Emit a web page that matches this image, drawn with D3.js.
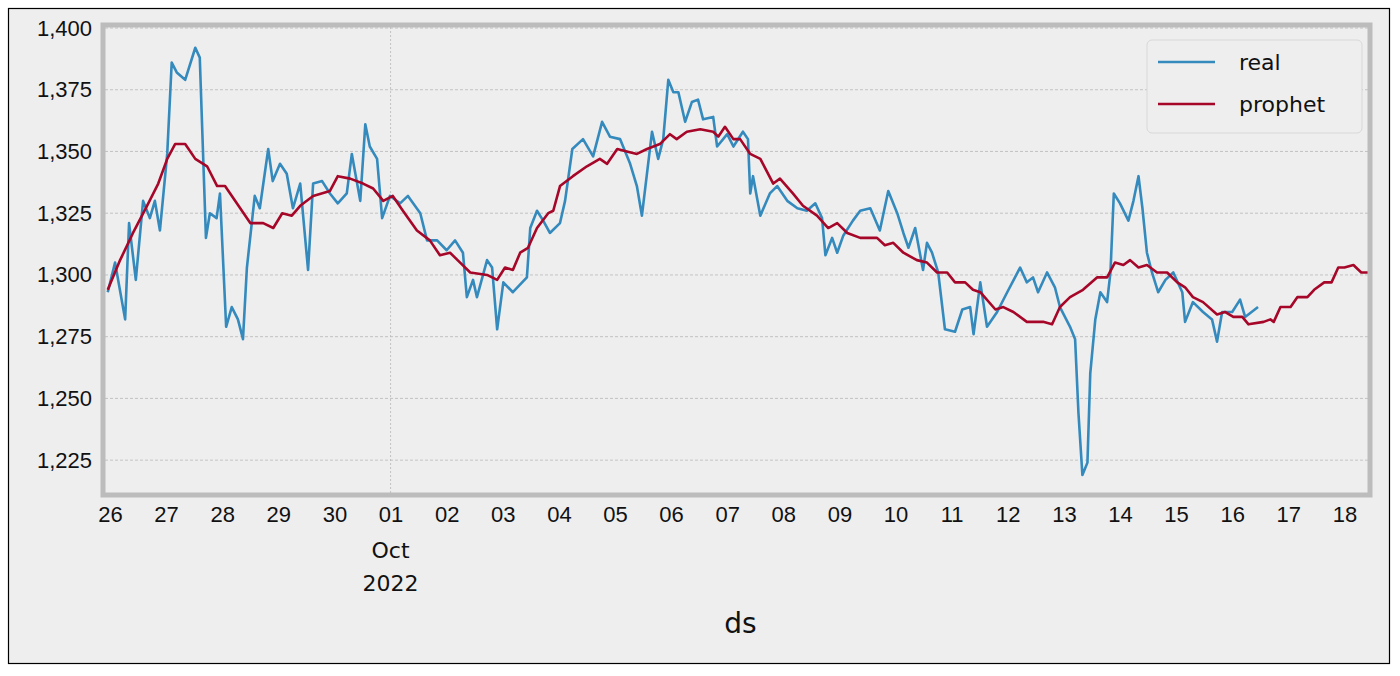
<!DOCTYPE html>
<html>
<head>
<meta charset="utf-8">
<script src="https://cdn.jsdelivr.net/npm/d3@7"></script>
<style>
  body { margin: 0; background: #fff; }
  svg { font-family: "DejaVu Sans", sans-serif; }
</style>
</head>
<body>
<div id="container"></div>
<script>
/* global d3 */
const width = 1400;
const height = 676;

// days after 26 Sep 2022 00:00
const realDays = [-0.04,0.09,0.27,0.34,0.46,0.59,0.71,0.8,0.89,1.02,1.1,1.19,1.34,1.52,1.6,1.71,1.78,1.9,1.96,2.07,2.17,2.28,2.37,2.44,2.58,2.67,2.82,2.9,3.03,3.15,3.26,3.39,3.53,3.62,3.78,3.92,4.06,4.22,4.31,4.46,4.55,4.63,4.76,4.85,4.99,5.17,5.31,5.53,5.65,5.83,6.0,6.15,6.29,6.36,6.47,6.54,6.72,6.81,6.9,7.01,7.18,7.43,7.49,7.61,7.72,7.84,8.02,8.11,8.24,8.43,8.61,8.77,8.91,9.09,9.27,9.39,9.48,9.66,9.77,9.86,9.95,10.04,10.13,10.25,10.37,10.48,10.57,10.75,10.82,11.0,11.11,11.28,11.37,11.41,11.46,11.59,11.76,11.89,12.07,12.25,12.42,12.57,12.69,12.75,12.87,12.96,13.07,13.24,13.37,13.55,13.72,13.87,14.03,14.14,14.23,14.35,14.49,14.56,14.65,14.76,14.88,15.06,15.19,15.33,15.39,15.51,15.63,15.81,15.99,16.22,16.34,16.45,16.54,16.7,16.84,16.93,17.11,17.2,17.26,17.33,17.42,17.47,17.56,17.65,17.77,17.83,17.89,18.0,18.15,18.24,18.33,18.4,18.48,18.57,18.68,18.81,18.95,19.11,19.16,19.3,19.48,19.64,19.73,19.82,20.0,20.14,20.23,20.46];
const realValues = [1293,1305,1282,1321,1298,1330,1323,1330,1318,1349,1386,1382,1379,1392,1388,1315,1325,1323,1333,1279,1287,1282,1274,1303,1332,1327,1351,1338,1345,1341,1327,1337,1302,1337,1338,1333,1329,1333,1349,1330,1361,1352,1347,1323,1332,1329,1332,1325,1314,1314,1310,1314,1309,1291,1298,1291,1306,1303,1278,1297,1293,1299,1319,1326,1322,1317,1321,1330,1351,1355,1348,1362,1356,1355,1345,1336,1324,1358,1347,1355,1379,1374,1374,1362,1370,1371,1363,1364,1352,1357,1352,1358,1355,1333,1340,1324,1333,1336,1330,1327,1326,1329,1323,1308,1315,1309,1316,1322,1326,1327,1318,1334,1325,1317,1311,1319,1302,1313,1309,1301,1278,1277,1286,1287,1276,1297,1279,1285,1293,1303,1297,1299,1293,1301,1295,1287,1279,1274,1244,1219,1224,1260,1282,1293,1289,1301,1333,1329,1322,1330,1340,1327,1309,1301,1293,1298,1301,1293,1281,1289,1285,1282,1273,1285,1285,1290,1283,1287];

const prophetDays = [-0.04,0.18,0.41,0.66,0.86,1.02,1.16,1.34,1.52,1.73,1.91,2.05,2.26,2.5,2.73,2.91,3.07,3.24,3.39,3.62,3.92,4.06,4.28,4.51,4.69,4.87,5.04,5.22,5.47,5.7,5.88,6.06,6.24,6.42,6.72,6.9,7.04,7.18,7.31,7.45,7.61,7.81,7.9,8.02,8.25,8.5,8.73,8.86,9.04,9.21,9.39,9.57,9.8,9.98,10.1,10.28,10.52,10.75,10.84,10.96,11.11,11.23,11.41,11.59,11.82,11.94,12.17,12.35,12.6,12.8,12.96,13.14,13.37,13.67,13.81,13.96,14.14,14.38,14.56,14.74,14.92,15.06,15.24,15.38,15.51,15.78,15.92,16.1,16.34,16.63,16.79,16.93,17.11,17.34,17.59,17.77,17.91,18.06,18.18,18.33,18.48,18.66,18.84,19.02,19.16,19.3,19.48,19.73,19.87,20.02,20.18,20.29,20.56,20.68,20.74,20.86,21.04,21.16,21.34,21.46,21.64,21.77,21.89,22.0,22.16,22.3,22.5];
const prophetValues = [1294,1306,1317,1328,1337,1347,1353,1353,1347,1344,1336,1336,1329,1321,1321,1319,1325,1324,1328,1332,1334,1340,1339,1337,1335,1330,1332,1326,1318,1314,1308,1309,1305,1301,1300,1298,1303,1302,1309,1311,1319,1325,1326,1336,1340,1344,1347,1345,1351,1350,1349,1351,1353,1357,1355,1358,1359,1358,1356,1360,1355,1355,1349,1347,1337,1339,1333,1328,1324,1319,1321,1317,1315,1315,1312,1313,1309,1306,1305,1301,1301,1297,1297,1294,1293,1286,1287,1285,1281,1281,1280,1287,1291,1294,1299,1299,1305,1304,1306,1303,1304,1301,1301,1297,1295,1291,1289,1284,1285,1283,1283,1280,1281,1282,1281,1287,1287,1291,1291,1294,1297,1297,1303,1303,1304,1301,1301];

const yTicks = [1225, 1250, 1275, 1300, 1325, 1350, 1375, 1400];
const seriesNames = ["real", "prophet"];
const colors = ["#348ABD", "#A60628"];

const t0 = new Date(2022, 8, 26);
const toDate = (d) => new Date(t0.getTime() + d * 86400000);

const plot = { left: 105, right: 1368, top: 27, bottom: 493 };

const svg = d3.select("#container").append("svg")
  .attr("width", width).attr("height", height);

// figure background and outer frame
svg.append("rect").attr("x", 8.5).attr("y", 8.5).attr("width", 1381).attr("height", 655)
  .attr("fill", "#eeeeee").attr("stroke", "#000").attr("stroke-width", 1.2);
svg.append("rect").attr("x", plot.left).attr("y", plot.top)
  .attr("width", plot.right - plot.left).attr("height", plot.bottom - plot.top)
  .attr("fill", "#eeeeee");

const x = d3.scaleTime([toDate(-0.089), toDate(22.42)], [plot.left, plot.right]);
const y = d3.scaleLinear([1211.7, 1400.4], [plot.bottom, plot.top]);

// gridlines
svg.append("g").selectAll("line").data(yTicks).join("line")
  .attr("x1", plot.left).attr("x2", plot.right)
  .attr("y1", (d) => y(d)).attr("y2", (d) => y(d))
  .attr("stroke", "#b8b8b8").attr("stroke-width", 0.8).attr("stroke-dasharray", "3,2");
svg.append("line")
  .attr("x1", x(toDate(5))).attr("x2", x(toDate(5)))
  .attr("y1", plot.top).attr("y2", plot.bottom)
  .attr("stroke", "#b8b8b8").attr("stroke-width", 0.8).attr("stroke-dasharray", "2,2");

// axes
const dayTicks = d3.range(0, 23).map(toDate);
const xAx = svg.append("g")
  .attr("transform", `translate(0,${plot.bottom + 4})`)
  .call(d3.axisBottom(x).tickValues(dayTicks).tickFormat(d3.timeFormat("%d")).tickSize(0).tickPadding(9));
xAx.select(".domain").remove();
xAx.selectAll("text").attr("font-size", 22).attr("fill", "#111");

const yAx = svg.append("g")
  .attr("transform", `translate(${plot.left - 4},0)`)
  .call(d3.axisLeft(y).tickValues(yTicks).tickSize(0).tickPadding(9));
yAx.select(".domain").remove();
yAx.selectAll("text").attr("font-size", 22).attr("fill", "#111");

const oct = x(toDate(5));
svg.append("text").attr("x", oct).attr("y", 558).attr("text-anchor", "middle")
  .attr("font-size", 22).attr("fill", "#111").text("Oct");
svg.append("text").attr("x", oct).attr("y", 591).attr("text-anchor", "middle")
  .attr("font-size", 22).attr("fill", "#111").text("2022");
svg.append("text").attr("x", (plot.left + plot.right) / 2 + 4).attr("y", 633).attr("text-anchor", "middle")
  .attr("font-size", 28).attr("fill", "#111").text("ds");

// lines
const clip = svg.append("clipPath").attr("id", "clip").append("rect")
  .attr("x", plot.left).attr("y", plot.top)
  .attr("width", plot.right - plot.left).attr("height", plot.bottom - plot.top);
const line = d3.line().x((d) => x(toDate(d[0]))).y((d) => y(d[1]));
const series = [
  d3.zip(realDays, realValues),
  d3.zip(prophetDays, prophetValues)
];
svg.append("g").attr("clip-path", "url(#clip)").selectAll("path").data(series).join("path")
  .attr("d", line).attr("fill", "none")
  .attr("stroke", (d, i) => colors[i]).attr("stroke-width", 2.6)
  .attr("stroke-linejoin", "round");

// plot frame
svg.append("rect").attr("x", plot.left - 2).attr("y", plot.top - 2)
  .attr("width", plot.right - plot.left + 4).attr("height", plot.bottom - plot.top + 4)
  .attr("fill", "none").attr("stroke", "#bcbcbc").attr("stroke-width", 5);

// legend
const lg = svg.append("g").attr("transform", "translate(1147,40)");
lg.append("rect").attr("width", 215).attr("height", 93).attr("rx", 5)
  .attr("fill", "#eeeeee").attr("stroke", "#d8d8d8").attr("stroke-width", 1);
seriesNames.forEach((name, i) => {
  const yy = 22 + i * 42;
  lg.append("line").attr("x1", 11).attr("x2", 68).attr("y1", yy).attr("y2", yy)
    .attr("stroke", colors[i]).attr("stroke-width", 2.6);
  lg.append("text").attr("x", 92).attr("y", yy + 8).attr("font-size", 22)
    .attr("fill", "#111").text(name);
});
</script>
</body>
</html>
